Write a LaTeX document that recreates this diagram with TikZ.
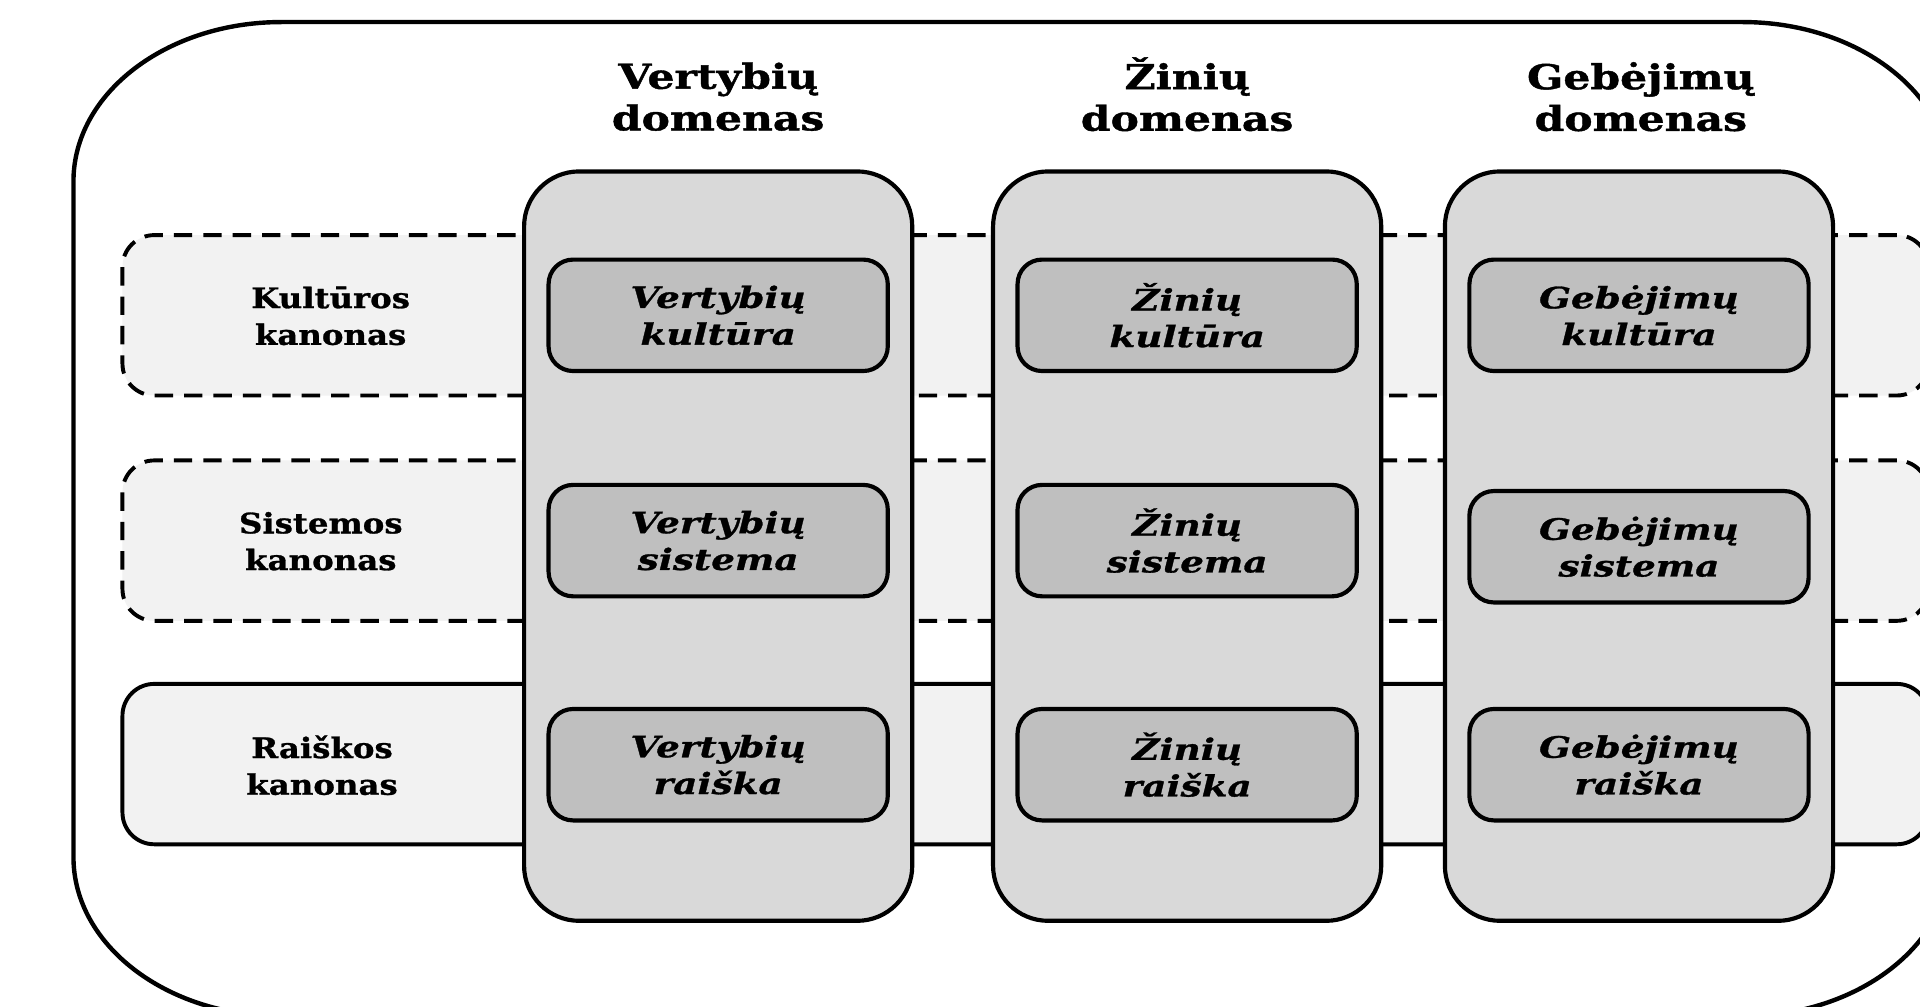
\documentclass[tikz,border=0pt]{standalone}
\usepackage{fontspec}
\setmainfont{DejaVu Serif}
\newfontfamily\headfont[FakeStretch=1.24,FakeBold=1.2]{DejaVu Serif}
\newfontfamily\labfont[FakeStretch=1.15,FakeBold=1]{DejaVu Serif}
\newfontfamily\cellfont[FakeStretch=1.27,FakeBold=1]{DejaVu Serif}
\definecolor{rowgray}{HTML}{F2F2F2}
\definecolor{colgray}{HTML}{D9D9D9}
\definecolor{boxgray}{HTML}{BFBFBF}
\begin{document}
\begin{tikzpicture}[x=1pt,y=-1pt,
  frame/.style={draw=black, line width=3.6pt},
  rowband/.style={draw=black, line width=3.2pt, fill=rowgray, rounded corners=26pt,
    minimum width=1475pt, minimum height=131pt, inner sep=0pt},
  dashband/.style={rowband, dash pattern=on 15pt off 9pt},
  colbox/.style={draw=black, line width=3.4pt, fill=colgray, rounded corners=45pt,
    minimum width=317pt, minimum height=612pt, inner sep=0pt},
  cellbox/.style={draw=black, line width=3.4pt, fill=boxgray, rounded corners=20pt,
    minimum width=277pt, minimum height=91pt, inner sep=0pt, align=center,
    font=\cellfont\fontsize{24}{30}\selectfont\bfseries\itshape},
  head/.style={align=center, inner sep=0pt, font=\headfont\fontsize{28}{34}\selectfont\bfseries},
  rowlabel/.style={align=center, inner sep=0pt, font=\labfont\fontsize{23}{30}\selectfont\bfseries}
]
\useasboundingbox (0,0) rectangle (1568,822);
\clip (0,0) rectangle (1568,822);
\fill[white] (0,0) rectangle (1568,822);
% outer frame
\draw[frame] (60,148) .. controls (60,76.2) and (136.1,18) .. (230,18)
  -- (1423,18) .. controls (1516.9,18) and (1593,76.2) .. (1593,148)
  -- (1593,700) .. controls (1593,771.8) and (1516.9,830) .. (1423,830)
  -- (230,830) .. controls (136.1,830) and (60,771.8) .. (60,700) -- cycle;
% headers
\node[head] (hv) at (586.5,79) {Vertybių\\domenas};
\node[head] (hz) at (969.5,77) {Žinių\\domenas};
\node[head] (hg) at (1340,79) {Gebėjimų\\domenas};
% canon bands
\node[dashband] (rk) at (837.5,257.5) {};
\node[dashband] (rs) at (837.5,441.5) {};
\node[rowband] (rr) at (837.5,624) {};
\node[rowlabel] (lk) at (270,258) {Kultūros\\kanonas};
\node[rowlabel] (ls) at (262,442) {Sistemos\\kanonas};
\node[rowlabel] (lr) at (263,625) {Raiškos\\kanonas};
% domain columns
\node[colbox] (cv) at (586.5,446) {};
\node[colbox] (cz) at (969.5,446) {};
\node[colbox] (cg) at (1338.5,446) {};
% cells
\node[cellbox] (vk) at (586.5,257.5) {Vertybių\\kultūra};
\node[cellbox] (vs) at (586.5,441.5) {Vertybių\\sistema};
\node[cellbox] (vr) at (586.5,624.5) {Vertybių\\raiška};
\node[cellbox] (zk) at (969.5,257.5) {Žinių\\kultūra};
\node[cellbox] (zs) at (969.5,441.5) {Žinių\\sistema};
\node[cellbox] (zr) at (969.5,624.5) {Žinių\\raiška};
\node[cellbox] (gk) at (1338.5,257.5) {Gebėjimų\\kultūra};
\node[cellbox] (gs) at (1338.5,446.5) {Gebėjimų\\sistema};
\node[cellbox] (gr) at (1338.5,624.5) {Gebėjimų\\raiška};
\end{tikzpicture}
\end{document}
